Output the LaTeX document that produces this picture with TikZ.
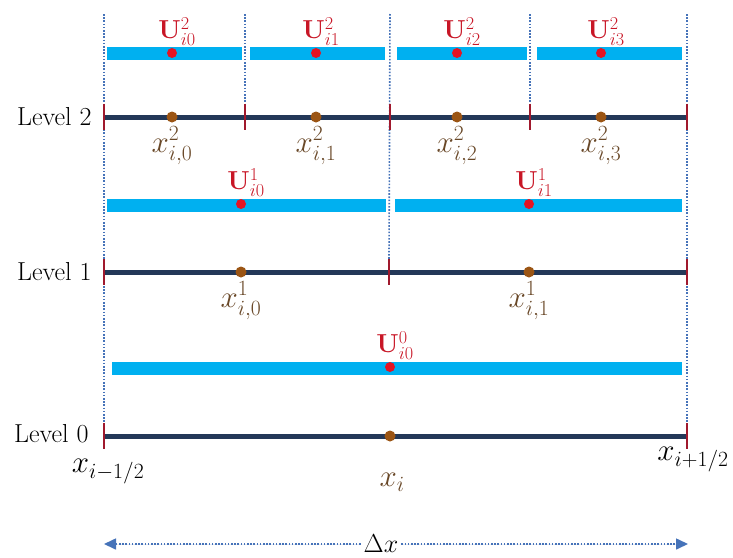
\RequirePackage{fix-cm}
\documentclass[tikz,border=0pt]{standalone}
\usepackage{amsmath,amssymb}
\usepackage{tikz}
\usetikzlibrary{arrows.meta, positioning, calc}
\definecolor{navy}{RGB}{35,56,88}
\definecolor{tickred}{RGB}{160,25,45}
\definecolor{barblue}{RGB}{0,176,240}
\definecolor{dotred}{RGB}{228,20,35}
\definecolor{dotbrown}{RGB}{155,85,20}
\definecolor{labbrown}{RGB}{105,72,40}
\definecolor{labred}{RGB}{200,22,38}
\definecolor{guide}{RGB}{70,115,185}

\begin{document}
\begin{tikzpicture}[x=1pt, y=-1pt,
  level/.style={line width=5pt, draw=navy},
  tick/.style={fill=tickred, inner sep=0pt, minimum width=2pt, minimum height=26pt},
  bar/.style={line width=13pt, draw=barblue},
  guideline/.style={draw=guide, line width=1.6pt, dash pattern=on 1.6pt off 1.6pt},
  ptx/.style={circle, fill=dotbrown, inner sep=0pt, minimum size=11pt},
  ptu/.style={circle, fill=dotred, inner sep=0pt, minimum size=10pt},
  lvl/.style={anchor=east, font=\fontsize{26}{28}\selectfont},
  xlab/.style={anchor=north, inner sep=0pt, text=labbrown, font=\fontsize{31}{33}\selectfont},
  ulab/.style={anchor=south, inner sep=0pt, xshift=5pt, text=labred, font=\fontsize{26}{28}\selectfont},
  dxarrow/.style={-{Triangle[length=12pt, width=11pt]}, draw=guide, fill=guide,
                  line width=1.6pt, dash pattern=on 1.6pt off 1.6pt}]

  \useasboundingbox (0,0) rectangle (733,557);

  % ticks on the three levels
  \foreach \x [count=\k] in {104,245,390,530,687}
    \node[tick] (k2\k) at (\x,117) {};
  \foreach \x [count=\k] in {104,389,687}
    \node[tick] (k1\k) at (\x,272) {};
  \foreach \x [count=\k] in {104,687}
    \node[tick] (k0\k) at (\x,436) {};

  % guide lines
  \foreach \x [count=\k] in {104,245,390,530,687}
    \coordinate (top\k) at (\x,14);
  \draw[guideline] (top1) -- (k01.north);
  \draw[guideline] (top2) -- (k22.north);
  \draw[guideline] (top3) -- (k12.north);
  \draw[guideline] (top4) -- (k24.north);
  \draw[guideline] (top5) -- (k02.north);

  % cell averages (bars)
  \foreach \a/\b in {107/242, 250/385, 397/527, 537/682}
    \draw[bar] (\a,53) -- (\b,53);
  \foreach \a/\b in {107/386, 395/682}
    \draw[bar] (\a,205) -- (\b,205);
  \draw[bar] (112,368) -- (682,368);

  % grid lines
  \draw[level] (k21) -- (k25);
  \draw[level] (k11) -- (k13);
  \draw[level] (k01) -- (k02);
  \foreach \k in {1,...,5} \node[tick] at (k2\k) {};
  \foreach \k in {1,...,3} \node[tick] at (k1\k) {};
  \foreach \k in {1,2} \node[tick] at (k0\k) {};

  \node[lvl] (lv2) at (95,117) {Level 2};
  \node[lvl] (lv1) at (95,272) {Level 1};
  \node[lvl] (lv0) at (92,434) {Level 0};

  % level 2
  \foreach \x [count=\k from 0] in {172,316,457,601} {
    \node[ptu] (u2\k) at (\x,53) {};
    \node[ulab] (U2\k) at ([yshift=2pt]u2\k.north) {$\mathbf{U}^2_{i\k}$};
    \node[ptx] (p2\k) at (\x,117) {};
    \node[xlab] (x2\k) at ([yshift=-4pt]p2\k.south) {$x^2_{i,\k}$};
  }
  % level 1
  \foreach \x [count=\k from 0] in {241,529} {
    \node[ptu] (u1\k) at (\x,204) {};
    \node[ulab] (U1\k) at ([yshift=2pt]u1\k.north) {$\mathbf{U}^1_{i\k}$};
    \node[ptx] (p1\k) at (\x,272) {};
    \node[xlab] (x1\k) at ([yshift=-4pt]p1\k.south) {$x^1_{i,\k}$};
  }
  % level 0
  \node[ptu] (u00) at (390,367) {};
  \node[ulab] (U00) at ([yshift=2pt]u00.north) {$\mathbf{U}^0_{i0}$};
  \node[ptx] (p00) at (390,436) {};
  \node[xlab] (xi) at (392,473) {$x_i$};

  \node[xlab, text=black] (xl) at (108,459) {$x_{i-1/2}$};
  \node[xlab, text=black] (xr) at (693,447) {$x_{i+1/2}$};

  % cell width
  \coordinate (dxl) at (104,544);
  \coordinate (dxr) at (688,544);
  \node[fill=white, inner sep=3pt, font=\fontsize{26}{28}\selectfont] (dx) at (381,544) {$\Delta x$};
  \draw[dxarrow] (dx) -- (dxl);
  \draw[dxarrow] (dx) -- (dxr);
\end{tikzpicture}
\end{document}
